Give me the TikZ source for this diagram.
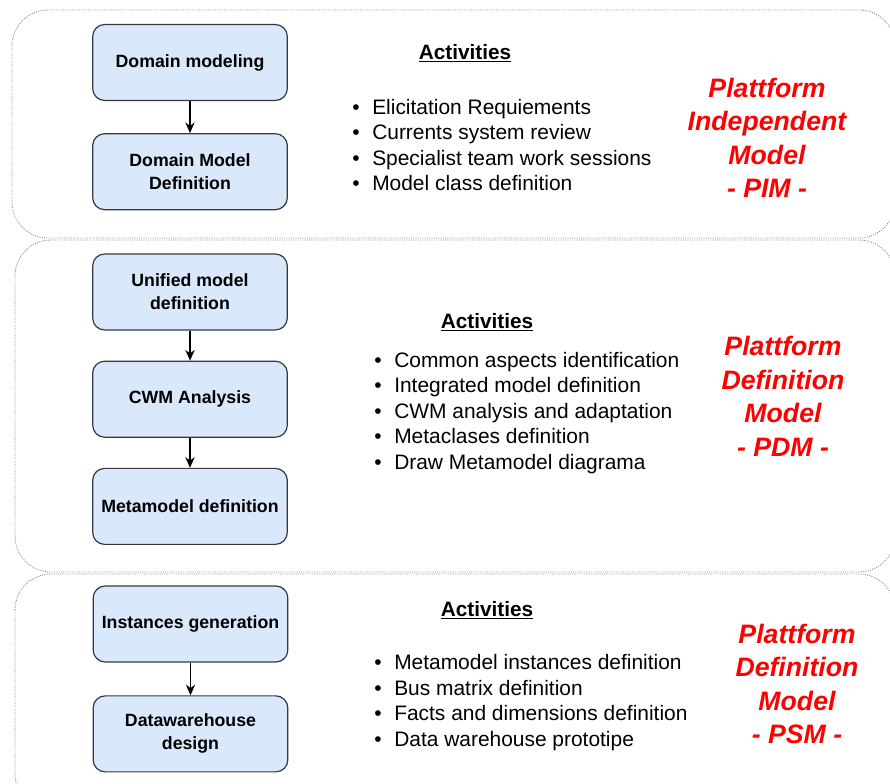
\documentclass[tikz,border=0pt]{standalone}
\usepackage{fontspec}
\setmainfont{Liberation Sans}
\usetikzlibrary{positioning,arrows.meta}

\definecolor{boxblue}{HTML}{DAE8FC}
\definecolor{boxline}{HTML}{36393D}
\definecolor{plred}{HTML}{FF0000}

\tikzset{
  stepbox/.style={draw=boxline, fill=boxblue, rounded corners=9pt, line width=0.9pt,
    minimum width=146pt, minimum height=57pt, align=center,
    font=\fontsize{13.3}{17.3}\selectfont\bfseries},
  panel/.style={draw=gray!90, densely dotted, line width=0.7pt, rounded corners=27pt},
  flow/.style={-{Stealth[length=8pt,width=7pt]}, line width=0.8pt},
  acthead/.style={font=\fontsize{15.6}{19}\selectfont\bfseries, inner sep=0pt},
  actlist/.style={anchor=west, align=left, inner sep=0pt,
    font=\fontsize{15.7}{19.1}\selectfont},
  modelname/.style={align=center, text=plred, inner sep=0pt,
    font=\fontsize{20}{25.1}\selectfont\bfseries\itshape}
}

\newcommand{\actitem}[1]{\makebox[15pt][l]{\textbullet}#1}

\begin{document}
\begin{tikzpicture}[x=0.75pt, y=-0.75pt, node distance=24pt]
  \useasboundingbox (0,0) rectangle (890,784);
  \clip (0,0) rectangle (890,784);

  % panels
  \draw[panel] (12,10) rectangle (895,238);
  \draw[panel] (15,240) rectangle (895,572);
  \draw[panel] (15,574) rectangle (895,810);

  % PIM
  \node (dmod) [stepbox] at (190,62.5) {Domain modeling};
  \node (ddef) [stepbox, below=of dmod] {Domain Model\\Definition};
  \draw[flow] (dmod) -- (ddef);

  \node (acta) [acthead] at (465,53) {\underline{Activities}};
  \node (lista) [actlist] at (352,145) {\actitem{Elicitation Requiements}\\
    \actitem{Currents system review}\\
    \actitem{Specialist team work sessions}\\
    \actitem{Model class definition}};
  \node (pim) [modelname] at (767,138) {Plattform\\Independent\\Model\\- PIM -};

  % PDM
  \node (umod) [stepbox] at (190,292) {Unified model\\definition};
  \node (cwm) [stepbox, below=22.5pt of umod] {CWM Analysis};
  \node (meta) [stepbox, below=22.5pt of cwm] {Metamodel definition};
  \draw[flow] (umod) -- (cwm);
  \draw[flow] (cwm) -- (meta);

  \node (actb) [acthead] at (487,322) {\underline{Activities}};
  \node (listb) [actlist] at (374,413) {\actitem{Common aspects identification}\\
    \actitem{Integrated model definition}\\
    \actitem{CWM analysis and adaptation}\\
    \actitem{Metaclases definition}\\
    \actitem{Draw Metamodel diagrama}};
  \node (pdm) [modelname] at (783,396.5) {Plattform\\Definition\\Model\\- PDM -};

  % PSM
  \node (inst) [stepbox] at (190.5,624) {Instances generation};
  \node (dwh) [stepbox, below=24.5pt of inst] {Datawarehouse\\design};
  \draw[flow] (inst) -- (dwh);

  \node (actc) [acthead] at (487,610) {\underline{Activities}};
  \node (listc) [actlist] at (374,702.5) {\actitem{Metamodel instances definition}\\
    \actitem{Bus matrix definition}\\
    \actitem{Facts and dimensions definition}\\
    \actitem{Data warehouse prototipe}};
  \node (psm) [modelname] at (797,684) {Plattform\\Definition\\Model\\- PSM -};
\end{tikzpicture}
\end{document}
